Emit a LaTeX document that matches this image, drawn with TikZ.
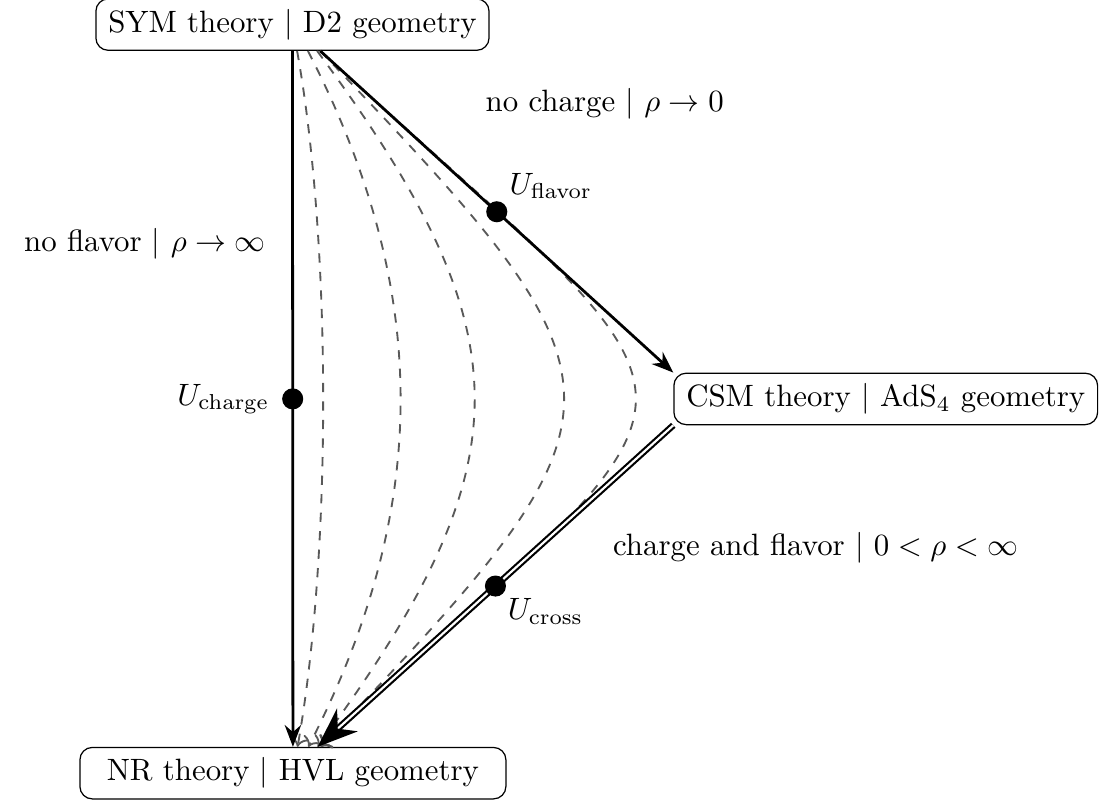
\documentclass[tikz,border=0pt]{standalone}
\usepackage{tikz}
\usetikzlibrary{arrows.meta}
\usetikzlibrary{calc}

\begin{document}
\begin{tikzpicture}[
    theory/.style={
        draw,
        rounded corners,
        inner xsep=4pt,
        minimum height=0.57cm
    },
    flow/.style={
        -{Stealth},
        line width=0.9pt
    },
    family/.style={
        ->,
        dashed,
        semithick,
        black!65
    },
    dot/.style={
        circle,
        fill,
        inner sep=0pt,
        minimum size=2.4mm
    },
    msg/.style={
        inner sep=2pt
    }
]

\useasboundingbox (0,0) rectangle (12.57,9.11);

% Theories
\node[theory] (sym) at (3.33,8.83) {SYM theory $|$ D2 geometry};
\node[theory, minimum width=4.85cm] (nr) at (3.335,0.307) {NR theory $|$ HVL geometry};
\node[theory] (csm) at (10.085,4.568) {CSM theory $|$ AdS$_4$ geometry};

% Control points of the flows
\coordinate (q1) at (3.506,6.465);
\coordinate (q2) at (3.506,2.675);
\coordinate (e1) at (8.434,4.154);
\coordinate (e2) at (8.434,4.985);

% Intermediate flows
\foreach \s/\off in {0.055/1.5pt,0.285/5pt,0.506/8pt,0.779/9pt,1/9pt}
    \draw[family]
        ([xshift=\off]sym.south) ..
        controls ($(q1)!\s!(e1)$) and ($(q2)!\s!(e2)$) ..
        ([xshift=\off]nr.north);

% No flavor
\draw[flow]
    (sym.south) --
    node[dot, label=left:{$U_{\mathrm{charge}}$}] (ucharge) {}
    (nr.north);

% No charge
\draw[flow]
    ([xshift=9pt]sym.south) --
    node[dot, label={[inner sep=1pt]above right:{$U_{\mathrm{flavor}}$}}] (uflavor) {}
    (csm.north west);

% Charge and flavor
\draw[-{Stealth[length=13pt,width=10pt]}, double, double distance=0.7pt, line width=0.7pt]
    (csm.south west) --
    node[dot, label={[inner sep=1pt]below right:{$U_{\mathrm{cross}}$}}] (ucross) {}
    ([xshift=8pt]nr.north);

% Labels
\node[msg] (nocharge) at (6.886,7.933) {no charge $|$ $\rho \to 0$};
\node[msg] (noflavor) at (1.650,6.340) {no flavor $|$ $\rho \to \infty$};
\node[msg] (both) at (9.288,2.868) {charge and flavor $|$ $0 < \rho < \infty$};

\end{tikzpicture}
\end{document}
